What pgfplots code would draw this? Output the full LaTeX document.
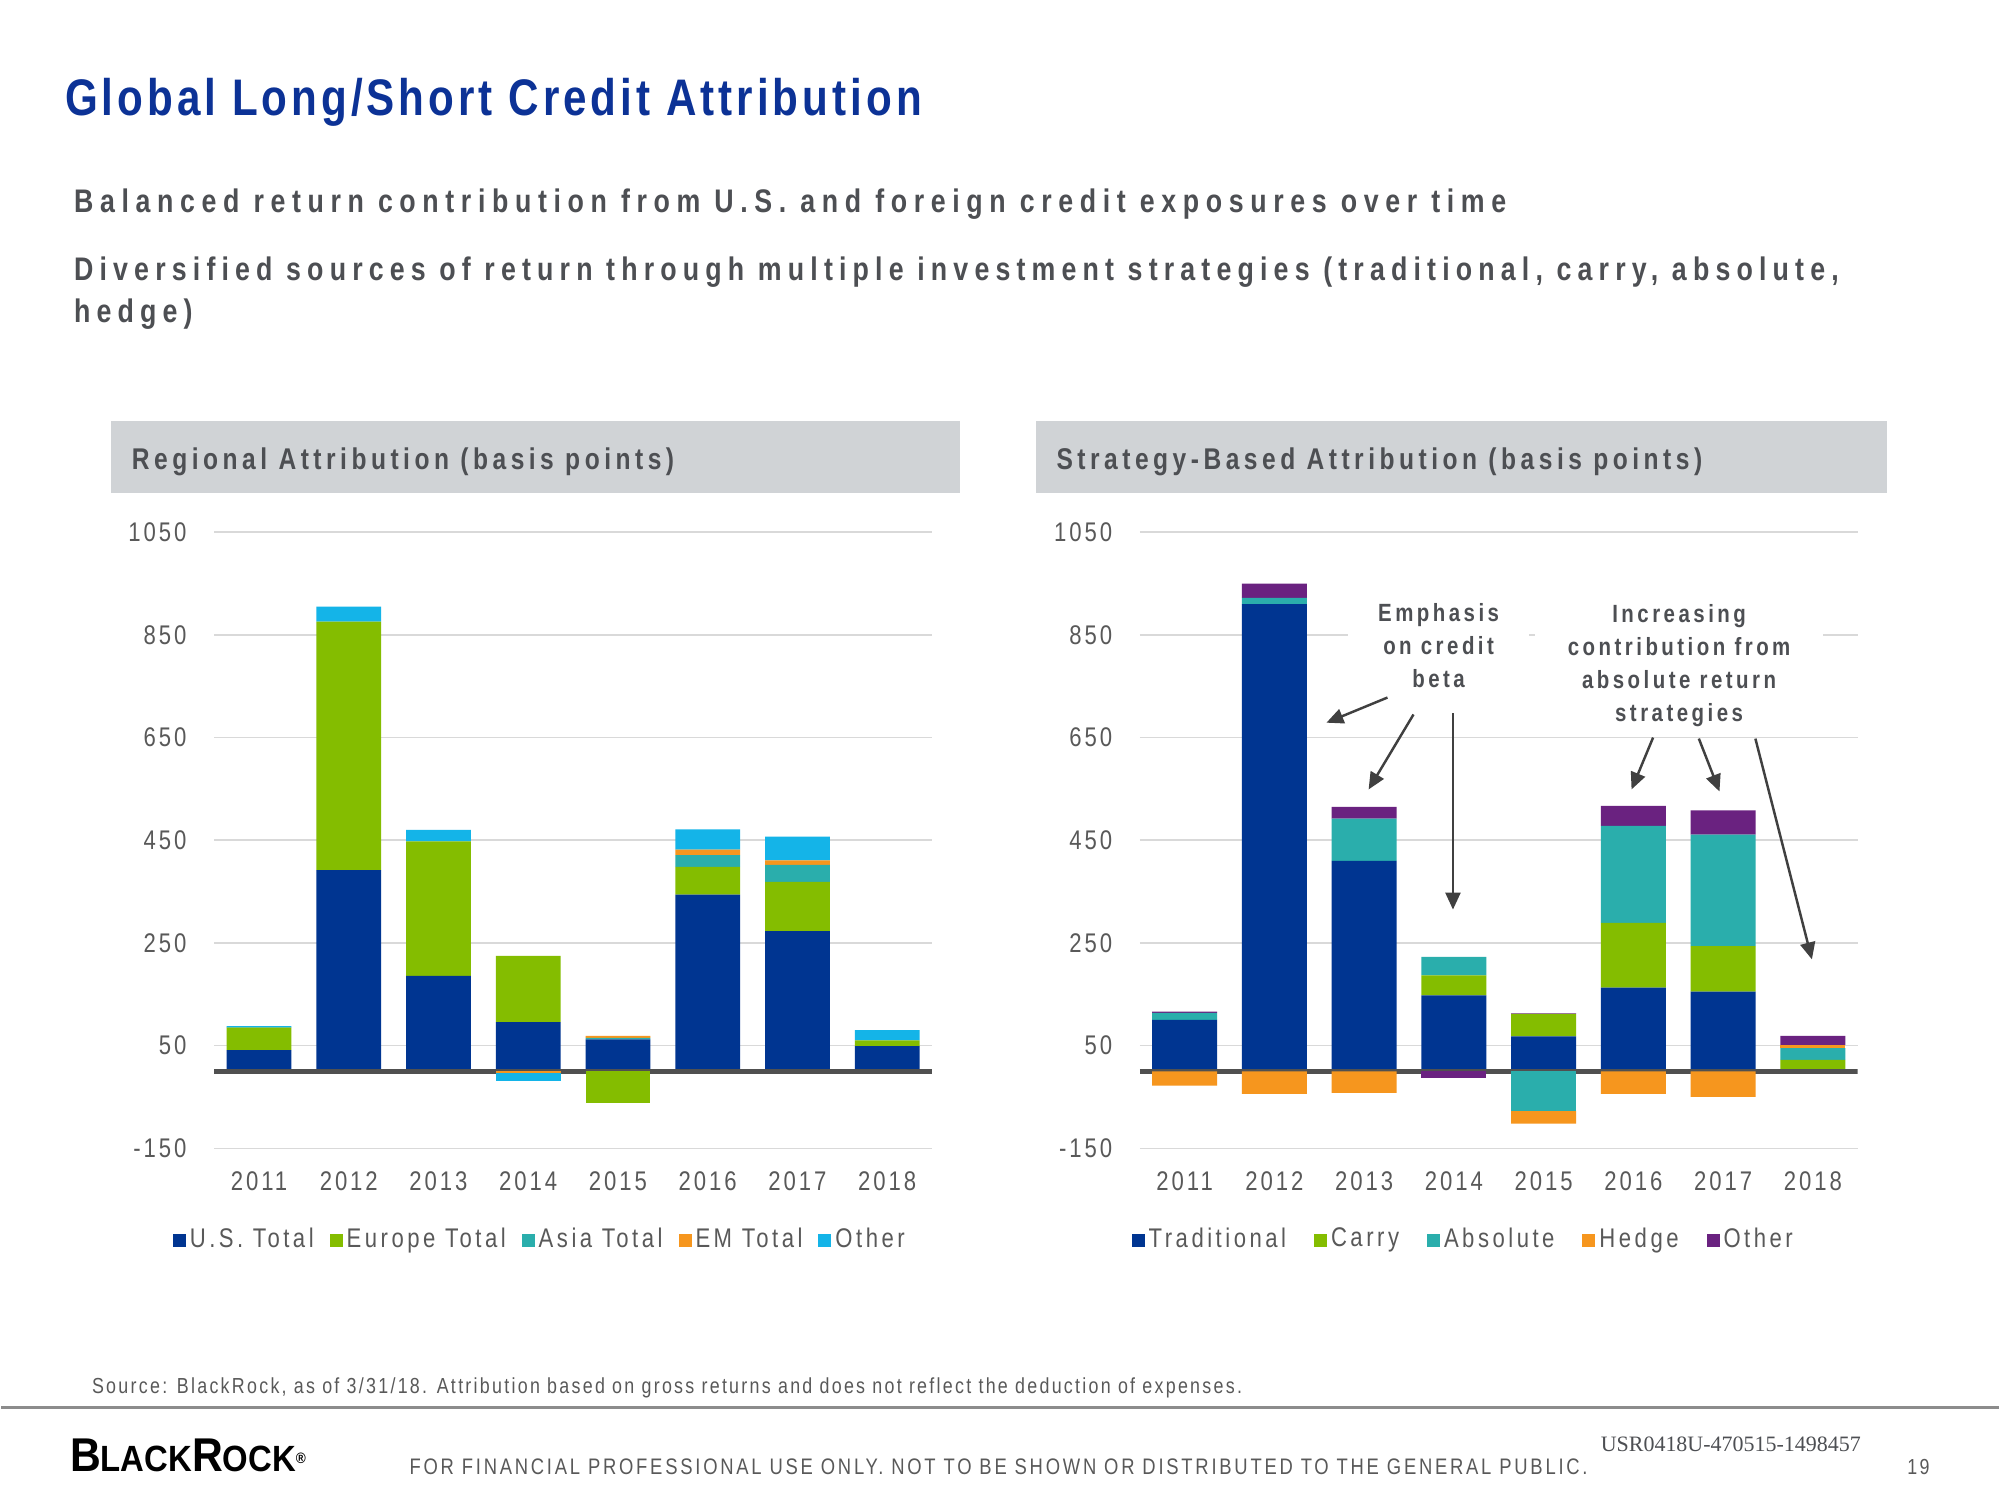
\documentclass[border=0pt]{standalone}
\usepackage{pgfplots}
\pgfplotsset{compat=1.18}
\usepackage{pgfplotstable}
\usetikzlibrary{arrows.meta}
\usepackage{fontspec}
\setmainfont{Liberation Sans}[FakeStretch=0.82]
\newfontfamily\fTitle{Liberation Sans}[FakeStretch=0.82, LetterSpace=7.8]
\newfontfamily\fSub{Liberation Sans}[FakeStretch=0.82, LetterSpace=20.3]
\newfontfamily\fSubB{Liberation Sans}[FakeStretch=0.82, LetterSpace=18.9]
\newfontfamily\fHead{Liberation Sans}[FakeStretch=0.82, LetterSpace=15]
\newfontfamily\fAx{Liberation Sans}[FakeStretch=0.82, LetterSpace=11]
\newfontfamily\fLeg{Liberation Sans}[FakeStretch=0.82, LetterSpace=13]
\newfontfamily\fAnn{Liberation Sans}[FakeStretch=0.82, LetterSpace=14]
\newfontfamily\fFoot{Liberation Sans}[FakeStretch=0.82, LetterSpace=10.5]
\newfontfamily\fFootB{Liberation Sans}[FakeStretch=0.82, LetterSpace=12.3]
\newfontfamily\fLogo{Liberation Sans}[FakeStretch=0.9]
\newfontfamily\fSerif{Liberation Serif}

\definecolor{cUS}{RGB}{0,53,145}
\definecolor{cEU}{RGB}{132,189,0}
\definecolor{cAS}{RGB}{42,174,172}
\definecolor{cEM}{RGB}{246,150,30}
\definecolor{cOT}{RGB}{20,180,232}
\definecolor{cPU}{RGB}{106,34,128}
\definecolor{tblue}{RGB}{12,50,150}
\definecolor{tgray}{RGB}{77,79,83}
\definecolor{lgray}{RGB}{89,89,89}
\definecolor{boxgray}{RGB}{208,211,214}
\definecolor{gridc}{RGB}{217,217,217}
\definecolor{zeroc}{RGB}{80,80,80}
\definecolor{arrc}{RGB}{64,64,64}

\pgfplotstableread{
x us eu as em ot
0 41 44 1 0 2
1 392 484 0 0 29
2 186 262 0 0 22
3 96 129 0 0 0
4 62 0 3 4 0
5 344 54 23 11 39
6 273 96 33 9 46
7 49 11 0 0 20
}\leftpos
\pgfplotstableread{
x us eu as em ot
0 0 0 0 0 0
1 0 0 0 0 0
2 0 0 0 0 0
3 0 0 0 -3 -15
4 0 -61 0 0 0
5 0 0 0 0 0
6 0 0 0 0 0
7 0 0 0 0 0
}\leftneg
\pgfplotstableread{
x tr ca ab he ot
0 100 0 14 0 2
1 910 0 12 0 28
2 410 0 82 0 23
3 148 39 36 0 0
4 68 44 0 0 1
5 163 126 189 0 39
6 155 89 217 0 47
7 0 22 23 6 18
}\rightpos
\pgfplotstableread{
x tr ca ab he ot
0 0 0 0 -28 0
1 0 0 0 -44 0
2 0 0 0 -42 0
3 0 0 0 0 -14
4 0 0 -77 -25 0
5 0 0 0 -44 0
6 0 0 0 -50 0
7 0 0 0 0 0
}\rightneg

\pgfplotsset{
  baseax/.style={
    scale only axis, width=7.19cm, height=6.17cm,
    xmin=-0.5, xmax=7.5, ymin=-150, ymax=1050,
    ybar stacked, bar width=0.65cm,
    anchor=south west,
  },
  mainax/.style={
    baseax,
    axis line style={draw=none},
    major tick style={draw=none}, minor tick style={draw=none},
    ymajorgrids, grid style={gridc, line width=0.45pt},
    xtick={0,...,7},
    xticklabels={2011,2012,2013,2014,2015,2016,2017,2018},
    ytick={-150,50,250,450,650,850,1050},
    yticklabels={-150,50,250,450,650,850,1050},
    tick label style={font=\fAx\fontsize{7.68}{9}\selectfont, text=lgray},
    yticklabel style={anchor=east, inner sep=0pt, xshift=-0.27cm},
    xticklabel style={anchor=north, inner sep=0pt, yshift=-0.23cm},
    legend style={draw=none, fill=none, legend columns=-1, anchor=center,
      font=\fLeg\fontsize{7.68}{9}\selectfont, text=lgray,
      nodes={inner sep=0.04cm}},
  },
  negax/.style={baseax, hide axis},
}
\tikzset{arr/.style={draw=arrc, line width=0.7pt, -{Triangle[length=0.17cm, width=0.15cm]}}}

\begin{document}
\begin{tikzpicture}
\path[fill=white] (0,0) rectangle (20,-15);

% title and subtitles
\node[anchor=base west, inner sep=0, text=tblue, font=\fTitle\bfseries\fontsize{14.65}{17}\selectfont] at (0.63,-1.16) {Global Long/Short Credit Attribution};
\node[anchor=base west, inner sep=0, text=tgray, font=\fSub\bfseries\fontsize{9.3}{10}\selectfont] at (0.72,-2.13) {Balanced return contribution from U.S. and foreign credit exposures over time};
\node[anchor=base west, inner sep=0, text=tgray, font=\fSubB\bfseries\fontsize{9.3}{10}\selectfont] at (0.72,-2.81) {Diversified sources of return through multiple investment strategies (traditional, carry, absolute,};
\node[anchor=base west, inner sep=0, text=tgray, font=\fSubB\bfseries\fontsize{9.3}{10}\selectfont] at (0.72,-3.23) {hedge)};

% header boxes
\fill[boxgray] (1.10,-4.22) rectangle (9.60,-4.94);
\fill[boxgray] (10.36,-4.22) rectangle (18.88,-4.94);
\node[anchor=base west, inner sep=0, text=tgray, font=\fHead\bfseries\fontsize{8.54}{10}\selectfont] at (1.30,-4.70) {Regional Attribution (basis points)};
\node[anchor=base west, inner sep=0, text=tgray, font=\fHead\bfseries\fontsize{8.54}{10}\selectfont] at (10.56,-4.70) {Strategy-Based Attribution (basis points)};

% ---------- left chart ----------
\begin{axis}[mainax, at={(2.13cm,-11.50cm)},
  legend style={at={(0.455,-0.149)}, /tikz/every even column/.append style={column sep=0.12cm}}]
\addplot[fill=cUS, draw=none, legend image code/.code={\fill[cUS] (0cm,-0.065cm) rectangle (0.13cm,0.065cm);}] table[x=x,y=us]{\leftpos};
\addplot[fill=cEU, draw=none, legend image code/.code={\fill[cEU] (0cm,-0.065cm) rectangle (0.13cm,0.065cm);}] table[x=x,y=eu]{\leftpos};
\addplot[fill=cAS, draw=none, legend image code/.code={\fill[cAS] (0cm,-0.065cm) rectangle (0.13cm,0.065cm);}] table[x=x,y=as]{\leftpos};
\addplot[fill=cEM, draw=none, legend image code/.code={\fill[cEM] (0cm,-0.065cm) rectangle (0.13cm,0.065cm);}] table[x=x,y=em]{\leftpos};
\addplot[fill=cOT, draw=none, legend image code/.code={\fill[cOT] (0cm,-0.065cm) rectangle (0.13cm,0.065cm);}] table[x=x,y=ot]{\leftpos};
\legend{U.S. Total,Europe Total,Asia Total,EM Total,Other}
\end{axis}
\begin{axis}[negax, at={(2.13cm,-11.50cm)}]
\addplot[fill=cUS, draw=none] table[x=x,y=us]{\leftneg};
\addplot[fill=cEU, draw=none] table[x=x,y=eu]{\leftneg};
\addplot[fill=cAS, draw=none] table[x=x,y=as]{\leftneg};
\addplot[fill=cEM, draw=none] table[x=x,y=em]{\leftneg};
\addplot[fill=cOT, draw=none] table[x=x,y=ot]{\leftneg};
\draw[zeroc, line width=1.3pt] (axis cs:-0.5,0) -- (axis cs:7.5,0);
\end{axis}

% ---------- right chart ----------
\begin{axis}[mainax, at={(11.40cm,-11.50cm)},
  legend style={at={(0.452,-0.149)}, /tikz/every even column/.append style={column sep=0.24cm}}]
\addplot[fill=cUS, draw=none, legend image code/.code={\fill[cUS] (0cm,-0.065cm) rectangle (0.13cm,0.065cm);}] table[x=x,y=tr]{\rightpos};
\addplot[fill=cEU, draw=none, legend image code/.code={\fill[cEU] (0cm,-0.065cm) rectangle (0.13cm,0.065cm);}] table[x=x,y=ca]{\rightpos};
\addplot[fill=cAS, draw=none, legend image code/.code={\fill[cAS] (0cm,-0.065cm) rectangle (0.13cm,0.065cm);}] table[x=x,y=ab]{\rightpos};
\addplot[fill=cEM, draw=none, legend image code/.code={\fill[cEM] (0cm,-0.065cm) rectangle (0.13cm,0.065cm);}] table[x=x,y=he]{\rightpos};
\addplot[fill=cPU, draw=none, legend image code/.code={\fill[cPU] (0cm,-0.065cm) rectangle (0.13cm,0.065cm);}] table[x=x,y=ot]{\rightpos};
\legend{Traditional,Carry,Absolute,Hedge,Other}
% annotations
\node[fill=white, inner xsep=0.3cm, inner ysep=0.06cm, align=center, text=tgray,
  font=\fAnn\bfseries\fontsize{7.1}{9.4}\selectfont] at (axis cs:2.83,830) {Emphasis\\on credit\\beta};
\node[fill=white, inner xsep=0.33cm, inner ysep=0.04cm, align=center, text=tgray,
  font=\fAnn\bfseries\fontsize{7.1}{9.4}\selectfont] at (axis cs:5.51,791) {Increasing\\contribution from\\absolute return\\strategies};
\end{axis}
\begin{axis}[negax, at={(11.40cm,-11.50cm)}]
\addplot[fill=cUS, draw=none] table[x=x,y=tr]{\rightneg};
\addplot[fill=cEU, draw=none] table[x=x,y=ca]{\rightneg};
\addplot[fill=cAS, draw=none] table[x=x,y=ab]{\rightneg};
\addplot[fill=cEM, draw=none] table[x=x,y=he]{\rightneg};
\addplot[fill=cPU, draw=none] table[x=x,y=ot]{\rightneg};
\draw[zeroc, line width=1.3pt] (axis cs:-0.5,0) -- (axis cs:7.5,0);
\draw[arr] (axis cs:2.26,728) -- (axis cs:1.58,679);
\draw[arr] (axis cs:2.55,695) -- (axis cs:2.05,549);
\draw[arr] (axis cs:2.99,697) -- (axis cs:2.99,315);
\draw[arr] (axis cs:5.22,650) -- (axis cs:4.98,549);
\draw[arr] (axis cs:5.73,648) -- (axis cs:5.96,545);
\draw[arr] (axis cs:6.36,648) -- (axis cs:6.99,218);
\end{axis}

% footer
\node[anchor=base west, inner sep=0, text=lgray, font=\fFoot\fontsize{6.2}{7}\selectfont] at (0.90,-13.96) {Source: BlackRock, as of 3/31/18. Attribution based on gross returns and does not reflect the deduction of expenses.};
\draw[gray!90, line width=0.85pt] (0,-14.10) -- (20,-14.10);
\node[anchor=base west, inner sep=0, text=black, font=\fLogo\bfseries] at (0.68,-14.74) {{\fontsize{13.5}{15}\selectfont B}{\fontsize{10.4}{12}\selectfont LACK}{\fontsize{13.5}{15}\selectfont R}{\fontsize{10.4}{12}\selectfont OCK}{\fontsize{4.3}{5}\selectfont\raisebox{1.0ex}{\textregistered}}};
\node[anchor=base west, inner sep=0, text=lgray, font=\fFootB\fontsize{6.4}{7}\selectfont] at (4.08,-14.77) {FOR FINANCIAL PROFESSIONAL USE ONLY. NOT TO BE SHOWN OR DISTRIBUTED TO THE GENERAL PUBLIC.};
\node[anchor=base west, inner sep=0, text=tgray, font=\fSerif\fontsize{6.26}{7}\selectfont] at (16.01,-14.54) {USR0418U-470515-1498457};
\node[anchor=base west, inner sep=0, text=lgray, font=\fFoot\fontsize{6.2}{7}\selectfont] at (19.08,-14.77) {19};
\end{tikzpicture}
\end{document}
